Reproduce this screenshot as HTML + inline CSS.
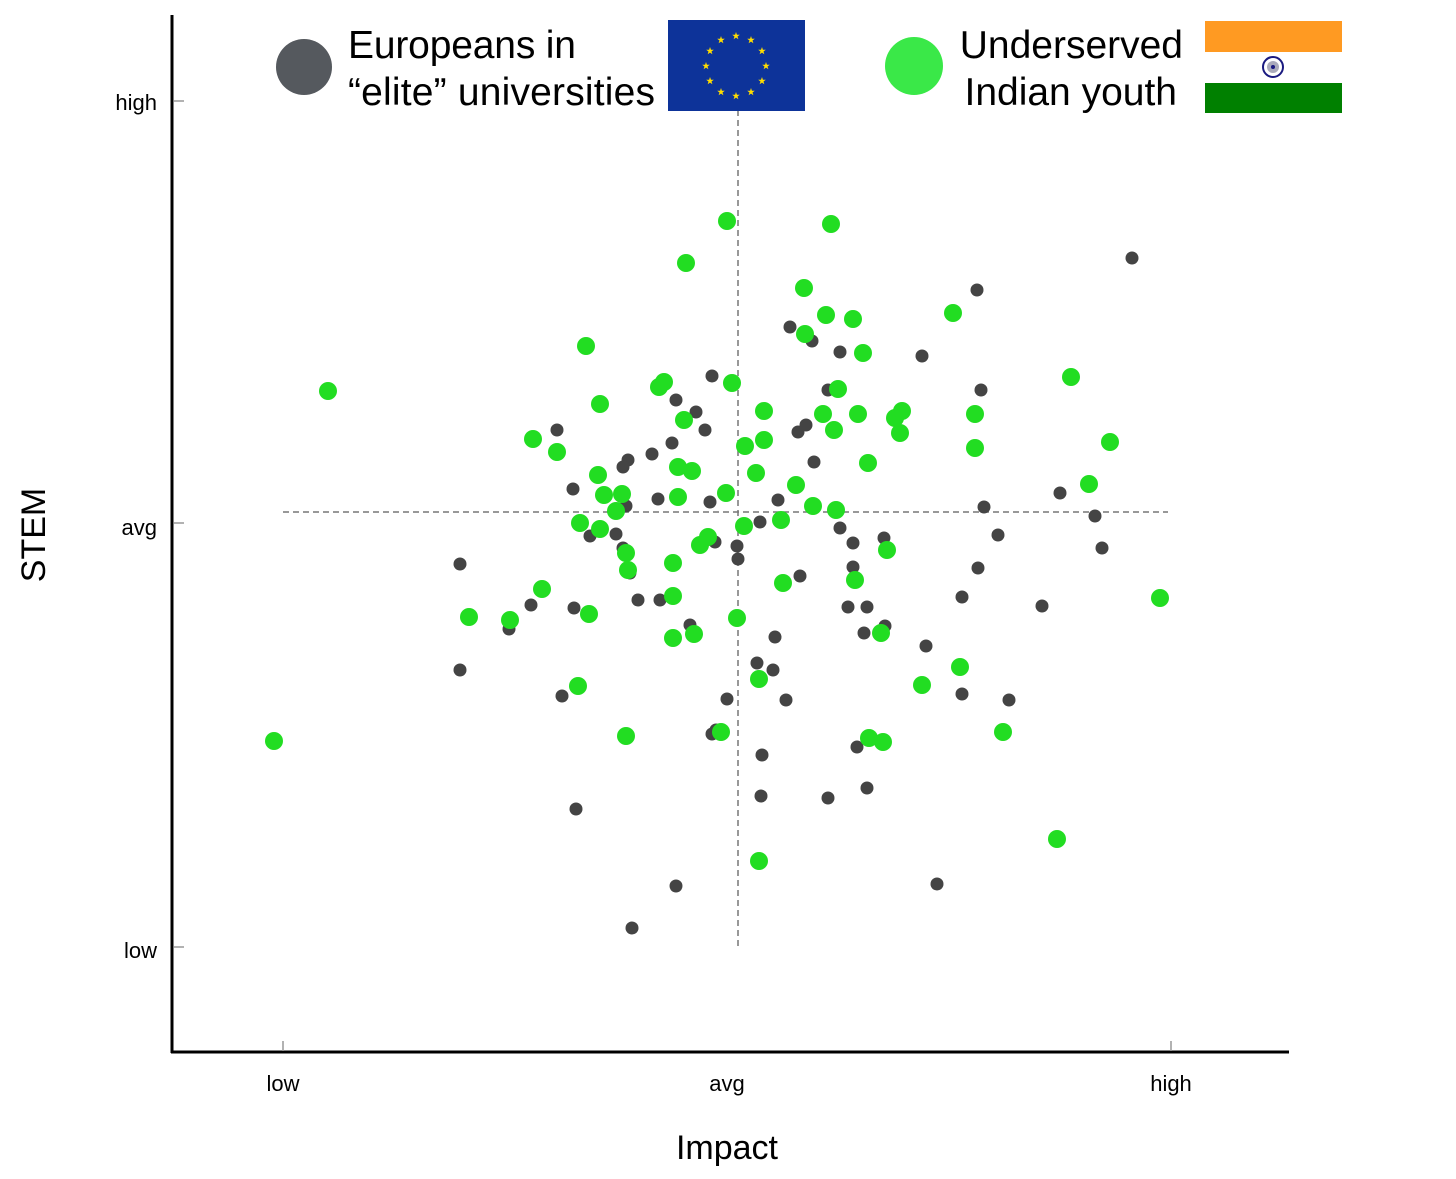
<!DOCTYPE html>
<html><head><meta charset="utf-8"><style>
html,body{margin:0;padding:0;background:#fff;}
svg{display:block;font-family:"Liberation Sans",Arial,sans-serif;}
</style></head><body>
<svg id="s" width="1456" height="1179" viewBox="0 0 1456 1179" xmlns="http://www.w3.org/2000/svg">
<rect width="1456" height="1179" fill="#fff"/>
<line x1="172" y1="15" x2="172" y2="1053" stroke="#000" stroke-width="3"/>
<line x1="171" y1="1052" x2="1289" y2="1052" stroke="#000" stroke-width="3"/>
<g stroke="#999" stroke-width="1.5">
<line x1="174" y1="101" x2="184" y2="101"/>
<line x1="174" y1="523" x2="184" y2="523"/>
<line x1="174" y1="947" x2="184" y2="947"/>
<line x1="283" y1="1041" x2="283" y2="1051"/>
<line x1="1171" y1="1041" x2="1171" y2="1051"/>
</g>
<line x1="738" y1="110" x2="738" y2="947" stroke="#777" stroke-width="1.5" stroke-dasharray="6,4"/>
<line x1="283" y1="512" x2="1168" y2="512" stroke="#777" stroke-width="1.5" stroke-dasharray="6,4"/>
<g font-size="22" fill="#000">
<text x="157" y="110" text-anchor="end">high</text>
<text x="157" y="535" text-anchor="end">avg</text>
<text x="157" y="958" text-anchor="end">low</text>
<text x="283" y="1091" text-anchor="middle">low</text>
<text x="727" y="1091" text-anchor="middle">avg</text>
<text x="1171" y="1091" text-anchor="middle">high</text>
</g>
<text x="727" y="1159" font-size="34" text-anchor="middle">Impact</text>
<text transform="translate(45,535) rotate(-90)" font-size="34" text-anchor="middle">STEM</text>
<g id="dots"></g>
<circle cx="304" cy="67" r="28" fill="#55595e"/>
<text x="348" y="58" font-size="39" textLength="228">Europeans in</text>
<text x="348" y="105" font-size="39" textLength="307">“elite” universities</text>
<rect x="668" y="20" width="137" height="91" fill="#0d3399"/>
<g id="stars" fill="#ffdd00"></g>
<circle cx="914" cy="66" r="29" fill="#3ae848"/>
<text x="1183" y="58" font-size="39" text-anchor="end">Underserved</text>
<text x="1177" y="105" font-size="39" text-anchor="end">Indian youth</text>
<rect x="1205" y="21" width="137" height="31" fill="#ff9a22"/>
<rect x="1205" y="83" width="137" height="30" fill="#008000"/>
<circle cx="1273" cy="67" r="10" fill="#fff" stroke="#1a1a80" stroke-width="2"/>
<circle cx="1273" cy="67" r="6" fill="#aab"/>
<circle cx="1273" cy="67" r="2" fill="#1a1a80"/>
</svg>
<script>
var ns="http://www.w3.org/2000/svg";
var G=[[727,221],[831,224],[686,263],[804,288],[826,315],[853,319],[805,334],[863,353],[586,346],[328,391],[953,313],[1071,377],[732,383],[838,389],[659,387],[664,382],[600,404],[764,411],[823,414],[858,414],[895,418],[902,411],[975,414],[684,420],[834,430],[900,433],[533,439],[557,452],[745,446],[764,440],[975,448],[1110,442],[868,463],[756,473],[678,467],[692,471],[598,475],[1089,484],[796,485],[604,495],[622,494],[678,497],[726,493],[616,511],[813,506],[836,510],[580,523],[600,529],[744,526],[781,520],[708,537],[700,545],[626,553],[628,570],[887,550],[673,563],[855,580],[783,583],[542,589],[469,617],[510,620],[589,614],[673,596],[737,618],[1160,598],[673,638],[694,634],[881,633],[960,667],[759,679],[922,685],[578,686],[274,741],[626,736],[721,732],[869,738],[883,742],[1003,732],[1057,839],[759,861]];
var K=[[1132,258],[977,290],[790,327],[812,341],[840,352],[922,356],[712,376],[828,390],[981,390],[676,400],[696,412],[705,430],[672,443],[557,430],[798,432],[806,425],[652,454],[628,460],[623,467],[814,462],[573,489],[658,499],[710,502],[778,500],[626,506],[1060,493],[984,507],[1095,516],[590,536],[616,534],[760,522],[840,528],[998,535],[715,542],[737,546],[738,559],[884,538],[853,543],[1102,548],[460,564],[623,548],[630,573],[853,567],[800,576],[978,568],[638,600],[660,600],[531,605],[574,608],[848,607],[867,607],[962,597],[1042,606],[509,629],[690,625],[775,637],[864,633],[885,626],[926,646],[460,670],[757,663],[773,670],[562,696],[727,699],[786,700],[962,694],[1009,700],[716,730],[712,734],[857,747],[762,755],[576,809],[761,796],[828,798],[867,788],[676,886],[937,884],[632,928]];
var d=document.getElementById("dots");
K.forEach(function(p){var c=document.createElementNS(ns,"circle");c.setAttribute("cx",p[0]);c.setAttribute("cy",p[1]);c.setAttribute("r",6.5);c.setAttribute("fill","#444");d.appendChild(c);});
G.forEach(function(p){var c=document.createElementNS(ns,"circle");c.setAttribute("cx",p[0]);c.setAttribute("cy",p[1]);c.setAttribute("r",9);c.setAttribute("fill","#22dd22");d.appendChild(c);});
var st=document.getElementById("stars");
for(var i=0;i<12;i++){var a=i*Math.PI/6;var cx=736+30*Math.sin(a),cy=66-30*Math.cos(a);var pts=[];for(var j=0;j<10;j++){var r=j%2?1.6:4;var b=j*Math.PI/5;pts.push((cx+r*Math.sin(b)).toFixed(1)+","+(cy-r*Math.cos(b)).toFixed(1));}var pg=document.createElementNS(ns,"polygon");pg.setAttribute("points",pts.join(" "));st.appendChild(pg);}
</script>
</body></html>
